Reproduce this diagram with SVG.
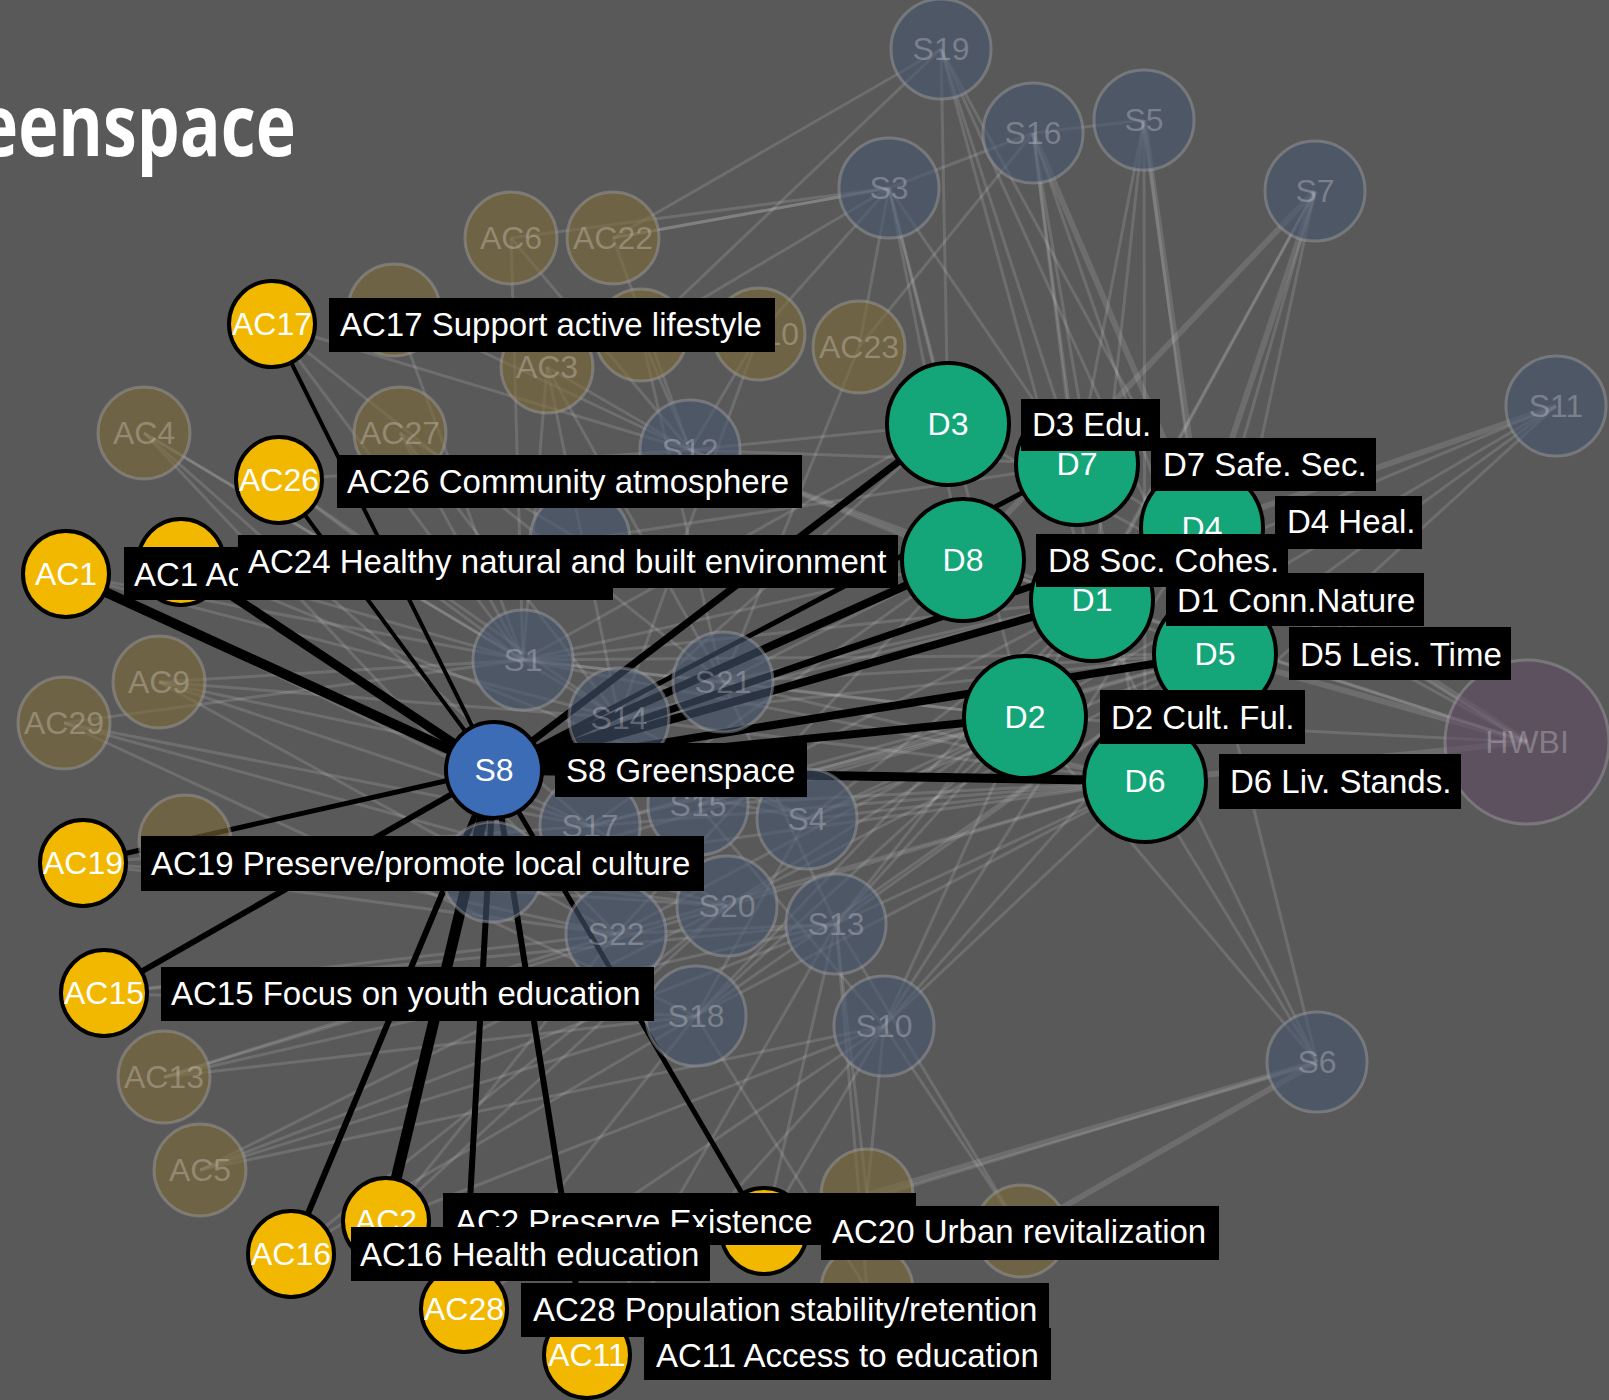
<svg xmlns="http://www.w3.org/2000/svg" width="1609" height="1400" viewBox="0 0 1609 1400">
<style>
.fe{stroke:#fff;stroke-opacity:.13;stroke-width:3}
.fw{stroke:#fff;stroke-opacity:.12;stroke-width:6}
.he{stroke:#000;stroke-linecap:round}
.fac{fill:#7e6b39;fill-opacity:.6;stroke:#a0a0a0;stroke-opacity:.45;stroke-width:3}
.fs{fill:#47566f;fill-opacity:.6;stroke:#a0a0a0;stroke-opacity:.45;stroke-width:3}
.fh{fill:#604d65;fill-opacity:.6;stroke:#a0a0a0;stroke-opacity:.45;stroke-width:3}
.ft{font-family:"Liberation Sans",Arial,sans-serif;font-size:32px;fill:#fff;fill-opacity:.25;text-anchor:middle}
.hac{fill:#f2b800;stroke:#000;stroke-width:4}
.hd{fill:#14a679;stroke:#000;stroke-width:4}
.hs{fill:#3b6cb5;stroke:#000;stroke-width:4}
.nt{font-family:"Liberation Sans",Arial,sans-serif;font-size:32px;fill:#fff;text-anchor:middle}
.lb{fill:#000}
.lt{font-family:"Liberation Sans",Arial,sans-serif;font-size:33px;fill:#fff}
</style>
<rect width="1609" height="1400" fill="#595959"/>
<text x="-22" y="156" font-family="'Open Sans','DejaVu Sans',sans-serif" font-weight="700" font-size="86" fill="#fff" textLength="318" lengthAdjust="spacingAndGlyphs">eenspace</text>
<g id="connectors">
<g id="faded-edges">
<line class="fe" x1="941" y1="49" x2="948" y2="424"/><line class="fe" x1="941" y1="49" x2="1077" y2="464"/><line class="fe" x1="941" y1="49" x2="1202" y2="528"/><line class="fe" x1="941" y1="49" x2="1092" y2="600"/><line class="fe" x1="941" y1="49" x2="1215" y2="654"/><line class="fe" x1="941" y1="49" x2="641" y2="335"/>
<line class="fe" x1="1033" y1="133" x2="1077" y2="464"/><line class="fw" x1="1033" y1="133" x2="1202" y2="528"/><line class="fe" x1="1033" y1="133" x2="1215" y2="654"/><line class="fe" x1="1033" y1="133" x2="1092" y2="600"/><line class="fe" x1="1033" y1="133" x2="1145" y2="781"/><line class="fe" x1="1033" y1="133" x2="889" y2="188"/>
<line class="fe" x1="1144" y1="120" x2="1077" y2="464"/><line class="fw" x1="1144" y1="120" x2="1202" y2="528"/><line class="fe" x1="1144" y1="120" x2="1092" y2="600"/><line class="fe" x1="1144" y1="120" x2="1215" y2="654"/><line class="fe" x1="1144" y1="120" x2="1145" y2="781"/><line class="fe" x1="1144" y1="120" x2="1033" y2="133"/>
<line class="fe" x1="889" y1="188" x2="948" y2="424"/><line class="fe" x1="889" y1="188" x2="963" y2="560"/><line class="fe" x1="889" y1="188" x2="1025" y2="717"/><line class="fe" x1="889" y1="188" x2="1077" y2="464"/><line class="fe" x1="889" y1="188" x2="613" y2="238"/><line class="fe" x1="889" y1="188" x2="641" y2="335"/>
<line class="fw" x1="1315" y1="191" x2="1202" y2="528"/><line class="fe" x1="1315" y1="191" x2="1215" y2="654"/><line class="fe" x1="1315" y1="191" x2="1025" y2="717"/><line class="fe" x1="1315" y1="191" x2="1145" y2="781"/><line class="fw" x1="1315" y1="191" x2="963" y2="560"/><line class="fe" x1="1315" y1="191" x2="1092" y2="600"/>
<line class="fe" x1="1556" y1="406" x2="1215" y2="654"/><line class="fe" x1="1556" y1="406" x2="1145" y2="781"/><line class="fe" x1="1556" y1="406" x2="1092" y2="600"/><line class="fw" x1="1556" y1="406" x2="1202" y2="528"/><line class="fe" x1="1556" y1="406" x2="1025" y2="717"/>
<line class="fe" x1="1317" y1="1062" x2="1145" y2="781"/><line class="fe" x1="1317" y1="1062" x2="1215" y2="654"/><line class="fe" x1="1317" y1="1062" x2="1025" y2="717"/><line class="fe" x1="1317" y1="1062" x2="1092" y2="600"/><line class="fw" x1="1317" y1="1062" x2="1021" y2="1231"/><line class="fw" x1="1317" y1="1062" x2="867" y2="1195"/>
<line class="fe" x1="1527" y1="742" x2="948" y2="424"/><line class="fe" x1="1527" y1="742" x2="1077" y2="464"/><line class="fw" x1="1527" y1="742" x2="1202" y2="528"/><line class="fe" x1="1527" y1="742" x2="963" y2="560"/><line class="fe" x1="1527" y1="742" x2="1092" y2="600"/><line class="fw" x1="1527" y1="742" x2="1215" y2="654"/><line class="fe" x1="1527" y1="742" x2="1025" y2="717"/><line class="fw" x1="1527" y1="742" x2="1145" y2="781"/>
<line class="fe" x1="690" y1="450" x2="948" y2="424"/><line class="fe" x1="690" y1="450" x2="963" y2="560"/><line class="fe" x1="690" y1="450" x2="1092" y2="600"/><line class="fe" x1="690" y1="450" x2="1077" y2="464"/><line class="fe" x1="690" y1="450" x2="1215" y2="654"/>
<line class="fe" x1="523" y1="660" x2="963" y2="560"/><line class="fe" x1="523" y1="660" x2="1025" y2="717"/><line class="fe" x1="523" y1="660" x2="1092" y2="600"/><line class="fe" x1="523" y1="660" x2="1215" y2="654"/><line class="fe" x1="523" y1="660" x2="948" y2="424"/><line class="fe" x1="523" y1="660" x2="1145" y2="781"/>
<line class="fe" x1="723" y1="682" x2="1215" y2="654"/><line class="fe" x1="723" y1="682" x2="1025" y2="717"/><line class="fe" x1="723" y1="682" x2="1145" y2="781"/><line class="fe" x1="723" y1="682" x2="963" y2="560"/><line class="fe" x1="723" y1="682" x2="1092" y2="600"/>
<line class="fe" x1="619" y1="718" x2="948" y2="424"/><line class="fe" x1="619" y1="718" x2="1092" y2="600"/><line class="fe" x1="619" y1="718" x2="1215" y2="654"/><line class="fe" x1="619" y1="718" x2="1145" y2="781"/>
<line class="fe" x1="698" y1="805" x2="1025" y2="717"/><line class="fe" x1="698" y1="805" x2="1145" y2="781"/><line class="fe" x1="698" y1="805" x2="1215" y2="654"/><line class="fe" x1="698" y1="805" x2="1092" y2="600"/>
<line class="fe" x1="590" y1="826" x2="963" y2="560"/><line class="fe" x1="590" y1="826" x2="1145" y2="781"/><line class="fe" x1="590" y1="826" x2="1025" y2="717"/><line class="fe" x1="590" y1="826" x2="1215" y2="654"/>
<line class="fe" x1="807" y1="819" x2="1145" y2="781"/><line class="fe" x1="807" y1="819" x2="1215" y2="654"/><line class="fe" x1="807" y1="819" x2="1092" y2="600"/><line class="fe" x1="807" y1="819" x2="1025" y2="717"/>
<line class="fe" x1="727" y1="906" x2="1025" y2="717"/><line class="fe" x1="727" y1="906" x2="1145" y2="781"/><line class="fe" x1="727" y1="906" x2="1215" y2="654"/>
<line class="fe" x1="616" y1="934" x2="963" y2="560"/><line class="fe" x1="616" y1="934" x2="1145" y2="781"/><line class="fe" x1="616" y1="934" x2="1025" y2="717"/>
<line class="fe" x1="836" y1="924" x2="1215" y2="654"/><line class="fe" x1="836" y1="924" x2="1145" y2="781"/><line class="fe" x1="836" y1="924" x2="1092" y2="600"/><line class="fe" x1="836" y1="924" x2="1025" y2="717"/>
<line class="fe" x1="696" y1="1016" x2="1025" y2="717"/><line class="fe" x1="696" y1="1016" x2="1215" y2="654"/><line class="fe" x1="696" y1="1016" x2="1145" y2="781"/><line class="fe" x1="696" y1="1016" x2="1092" y2="600"/>
<line class="fe" x1="884" y1="1026" x2="1145" y2="781"/><line class="fe" x1="884" y1="1026" x2="1215" y2="654"/><line class="fe" x1="884" y1="1026" x2="1202" y2="528"/><line class="fe" x1="884" y1="1026" x2="1025" y2="717"/>
<line class="fe" x1="580" y1="540" x2="963" y2="560"/><line class="fe" x1="580" y1="540" x2="1077" y2="464"/>
<line class="fe" x1="492" y1="872" x2="1025" y2="717"/><line class="fe" x1="492" y1="872" x2="1145" y2="781"/>
<line class="fe" x1="523" y1="660" x2="723" y2="682"/><line class="fe" x1="619" y1="718" x2="807" y2="819"/><line class="fe" x1="590" y1="826" x2="727" y2="906"/><line class="fe" x1="723" y1="682" x2="836" y2="924"/><line class="fe" x1="698" y1="805" x2="884" y2="1026"/><line class="fe" x1="616" y1="934" x2="836" y2="924"/><line class="fe" x1="696" y1="1016" x2="807" y2="819"/>
<line class="fe" x1="511" y1="238" x2="690" y2="450"/><line class="fe" x1="511" y1="238" x2="889" y2="188"/><line class="fe" x1="511" y1="238" x2="523" y2="660"/>
<line class="fe" x1="613" y1="238" x2="889" y2="188"/><line class="fe" x1="613" y1="238" x2="941" y2="49"/><line class="fe" x1="613" y1="238" x2="690" y2="450"/>
<line class="fe" x1="394" y1="310" x2="523" y2="660"/><line class="fe" x1="394" y1="310" x2="690" y2="450"/>
<line class="fe" x1="641" y1="335" x2="690" y2="450"/><line class="fe" x1="641" y1="335" x2="723" y2="682"/>
<line class="fe" x1="759" y1="334" x2="690" y2="450"/><line class="fe" x1="759" y1="334" x2="619" y2="718"/><line class="fe" x1="759" y1="334" x2="889" y2="188"/>
<line class="fe" x1="859" y1="347" x2="889" y2="188"/><line class="fe" x1="859" y1="347" x2="1033" y2="133"/><line class="fe" x1="859" y1="347" x2="723" y2="682"/>
<line class="fe" x1="547" y1="367" x2="523" y2="660"/><line class="fe" x1="547" y1="367" x2="690" y2="450"/><line class="fe" x1="547" y1="367" x2="619" y2="718"/><line class="fe" x1="547" y1="367" x2="723" y2="682"/>
<line class="fe" x1="144" y1="433" x2="523" y2="660"/><line class="fe" x1="144" y1="433" x2="590" y2="826"/><line class="fe" x1="144" y1="433" x2="616" y2="934"/><line class="fe" x1="144" y1="433" x2="619" y2="718"/>
<line class="fe" x1="400" y1="433" x2="523" y2="660"/><line class="fe" x1="400" y1="433" x2="619" y2="718"/><line class="fe" x1="400" y1="433" x2="580" y2="540"/>
<line class="fe" x1="159" y1="682" x2="523" y2="660"/><line class="fe" x1="159" y1="682" x2="590" y2="826"/><line class="fe" x1="159" y1="682" x2="807" y2="819"/><line class="fe" x1="159" y1="682" x2="616" y2="934"/><line class="fe" x1="159" y1="682" x2="619" y2="718"/>
<line class="fe" x1="64" y1="723" x2="523" y2="660"/><line class="fe" x1="64" y1="723" x2="727" y2="906"/><line class="fe" x1="64" y1="723" x2="696" y2="1016"/><line class="fe" x1="64" y1="723" x2="590" y2="826"/>
<line class="fe" x1="185" y1="841" x2="727" y2="906"/><line class="fe" x1="185" y1="841" x2="616" y2="934"/>
<line class="fe" x1="164" y1="1077" x2="616" y2="934"/><line class="fe" x1="164" y1="1077" x2="696" y2="1016"/><line class="fe" x1="164" y1="1077" x2="727" y2="906"/><line class="fe" x1="164" y1="1077" x2="836" y2="924"/>
<line class="fe" x1="200" y1="1170" x2="696" y2="1016"/><line class="fe" x1="200" y1="1170" x2="884" y2="1026"/><line class="fe" x1="200" y1="1170" x2="836" y2="924"/><line class="fe" x1="200" y1="1170" x2="727" y2="906"/>
<line class="fe" x1="867" y1="1195" x2="884" y2="1026"/><line class="fe" x1="867" y1="1195" x2="836" y2="924"/>
<line class="fe" x1="1021" y1="1231" x2="884" y2="1026"/><line class="fe" x1="1021" y1="1231" x2="836" y2="924"/>
<line class="fe" x1="867" y1="1290" x2="836" y2="924"/><line class="fe" x1="867" y1="1290" x2="696" y2="1016"/>
<line class="fe" x1="272" y1="324" x2="523" y2="660"/><line class="fe" x1="272" y1="324" x2="690" y2="450"/><line class="fe" x1="272" y1="324" x2="723" y2="682"/>
<line class="fe" x1="279" y1="480" x2="690" y2="450"/><line class="fe" x1="279" y1="480" x2="619" y2="718"/><line class="fe" x1="279" y1="480" x2="523" y2="660"/>
<line class="fe" x1="66" y1="574" x2="523" y2="660"/><line class="fe" x1="66" y1="574" x2="619" y2="718"/><line class="fe" x1="66" y1="574" x2="590" y2="826"/>
<line class="fe" x1="181" y1="562" x2="523" y2="660"/><line class="fe" x1="181" y1="562" x2="807" y2="819"/>
<line class="fe" x1="83" y1="863" x2="590" y2="826"/><line class="fe" x1="83" y1="863" x2="616" y2="934"/><line class="fe" x1="83" y1="863" x2="727" y2="906"/>
<line class="fe" x1="104" y1="993" x2="616" y2="934"/><line class="fe" x1="104" y1="993" x2="696" y2="1016"/><line class="fe" x1="104" y1="993" x2="836" y2="924"/>
<line class="fe" x1="291" y1="1254" x2="696" y2="1016"/><line class="fe" x1="291" y1="1254" x2="727" y2="906"/>
<line class="fe" x1="386" y1="1221" x2="727" y2="906"/><line class="fe" x1="386" y1="1221" x2="616" y2="934"/><line class="fe" x1="386" y1="1221" x2="884" y2="1026"/>
<line class="fe" x1="464" y1="1309" x2="696" y2="1016"/><line class="fe" x1="464" y1="1309" x2="884" y2="1026"/>
<line class="fe" x1="587" y1="1355" x2="884" y2="1026"/><line class="fe" x1="587" y1="1355" x2="836" y2="924"/>
<line class="fe" x1="764" y1="1231" x2="1317" y2="1062"/><line class="fe" x1="764" y1="1231" x2="884" y2="1026"/><line class="fe" x1="764" y1="1231" x2="836" y2="924"/>
</g>
<g id="highlighted-edges">
<line class="he" stroke-width="4" x1="494" y1="770" x2="272" y2="324"/>
<line class="he" stroke-width="4" x1="494" y1="770" x2="279" y2="480"/>
<line class="he" stroke-width="10" x1="494" y1="770" x2="66" y2="574"/>
<line class="he" stroke-width="9" x1="494" y1="770" x2="181" y2="562"/>
<line class="he" stroke-width="5" x1="494" y1="770" x2="83" y2="863"/>
<line class="he" stroke-width="6" x1="494" y1="770" x2="104" y2="993"/>
<line class="he" stroke-width="6" x1="494" y1="770" x2="291" y2="1254"/>
<line class="he" stroke-width="11" x1="494" y1="770" x2="386" y2="1221"/>
<line class="he" stroke-width="6" x1="494" y1="770" x2="464" y2="1309"/>
<line class="he" stroke-width="6" x1="494" y1="770" x2="587" y2="1355"/>
<line class="he" stroke-width="5" x1="494" y1="770" x2="764" y2="1231"/>
<line class="he" stroke-width="7" x1="494" y1="770" x2="948" y2="424"/>
<line class="he" stroke-width="5" x1="494" y1="770" x2="1077" y2="464"/>
<line class="he" stroke-width="7" x1="494" y1="770" x2="1202" y2="528"/>
<line class="he" stroke-width="8" x1="494" y1="770" x2="963" y2="560"/>
<line class="he" stroke-width="8" x1="494" y1="770" x2="1092" y2="600"/>
<line class="he" stroke-width="8" x1="494" y1="770" x2="1215" y2="654"/>
<line class="he" stroke-width="8" x1="494" y1="770" x2="1025" y2="717"/>
<line class="he" stroke-width="9" x1="494" y1="770" x2="1145" y2="781"/>
</g>
</g>
<g id="faded-nodes">
<g id="S19"><circle class="fs" cx="941" cy="49" r="50"/><text class="ft" x="941" y="60">S19</text></g>
<g id="S16"><circle class="fs" cx="1033" cy="133" r="50"/><text class="ft" x="1033" y="144">S16</text></g>
<g id="S5"><circle class="fs" cx="1144" cy="120" r="50"/><text class="ft" x="1144" y="131">S5</text></g>
<g id="S3"><circle class="fs" cx="889" cy="188" r="50"/><text class="ft" x="889" y="199">S3</text></g>
<g id="S7"><circle class="fs" cx="1315" cy="191" r="50"/><text class="ft" x="1315" y="202">S7</text></g>
<g id="S11"><circle class="fs" cx="1556" cy="406" r="50"/><text class="ft" x="1556" y="417">S11</text></g>
<g id="S12"><circle class="fs" cx="690" cy="450" r="50"/><text class="ft" x="690" y="461">S12</text></g>
<g id="S2"><circle class="fs" cx="580" cy="540" r="50"/></g>
<g id="S1"><circle class="fs" cx="523" cy="660" r="50"/><text class="ft" x="523" y="671">S1</text></g>
<g id="S21"><circle class="fs" cx="723" cy="682" r="50"/><text class="ft" x="723" y="693">S21</text></g>
<g id="S14"><circle class="fs" cx="619" cy="718" r="50"/><text class="ft" x="619" y="729">S14</text></g>
<g id="S15"><circle class="fs" cx="698" cy="805" r="50"/><text class="ft" x="698" y="816">S15</text></g>
<g id="S17"><circle class="fs" cx="590" cy="826" r="50"/><text class="ft" x="590" y="837">S17</text></g>
<g id="S4"><circle class="fs" cx="807" cy="819" r="50"/><text class="ft" x="807" y="830">S4</text></g>
<g id="S9"><circle class="fs" cx="492" cy="872" r="50"/></g>
<g id="S20"><circle class="fs" cx="727" cy="906" r="50"/><text class="ft" x="727" y="917">S20</text></g>
<g id="S22"><circle class="fs" cx="616" cy="934" r="50"/><text class="ft" x="616" y="945">S22</text></g>
<g id="S13"><circle class="fs" cx="836" cy="924" r="50"/><text class="ft" x="836" y="935">S13</text></g>
<g id="S18"><circle class="fs" cx="696" cy="1016" r="50"/><text class="ft" x="696" y="1027">S18</text></g>
<g id="S10"><circle class="fs" cx="884" cy="1026" r="50"/><text class="ft" x="884" y="1037">S10</text></g>
<g id="S6"><circle class="fs" cx="1317" cy="1062" r="50"/><text class="ft" x="1317" y="1073">S6</text></g>
<g id="HWBI"><circle class="fh" cx="1527" cy="742" r="82"/><text class="ft" x="1527" y="753">HWBI</text></g>
<g id="AC6"><circle class="fac" cx="511" cy="238" r="46"/><text class="ft" x="511" y="249">AC6</text></g>
<g id="AC22"><circle class="fac" cx="613" cy="238" r="46"/><text class="ft" x="613" y="249">AC22</text></g>
<g id="AC-a"><circle class="fac" cx="394" cy="310" r="46"/></g>
<g id="AC-b"><circle class="fac" cx="641" cy="335" r="46"/></g>
<g id="AC10"><circle class="fac" cx="759" cy="334" r="46"/><text class="ft" x="759" y="345">AC10</text></g>
<g id="AC23"><circle class="fac" cx="859" cy="347" r="46"/><text class="ft" x="859" y="358">AC23</text></g>
<g id="AC3"><circle class="fac" cx="547" cy="367" r="46"/><text class="ft" x="547" y="378">AC3</text></g>
<g id="AC4"><circle class="fac" cx="144" cy="433" r="46"/><text class="ft" x="144" y="444">AC4</text></g>
<g id="AC27"><circle class="fac" cx="400" cy="433" r="46"/><text class="ft" x="400" y="444">AC27</text></g>
<g id="AC9"><circle class="fac" cx="159" cy="682" r="46"/><text class="ft" x="159" y="693">AC9</text></g>
<g id="AC29"><circle class="fac" cx="64" cy="723" r="46"/><text class="ft" x="64" y="734">AC29</text></g>
<g id="AC-c"><circle class="fac" cx="185" cy="841" r="46"/></g>
<g id="AC13"><circle class="fac" cx="164" cy="1077" r="46"/><text class="ft" x="164" y="1088">AC13</text></g>
<g id="AC5"><circle class="fac" cx="200" cy="1170" r="46"/><text class="ft" x="200" y="1181">AC5</text></g>
<g id="AC-d"><circle class="fac" cx="867" cy="1195" r="46"/></g>
<g id="AC-e"><circle class="fac" cx="1021" cy="1231" r="46"/></g>
<g id="AC-f"><circle class="fac" cx="867" cy="1290" r="46"/></g>
</g>
<g id="highlighted-nodes">
<g id="AC17"><circle class="hac" cx="272" cy="324" r="43"/><text class="nt" x="272" y="335">AC17</text></g>
<g id="AC26"><circle class="hac" cx="279" cy="480" r="43"/><text class="nt" x="279" y="491">AC26</text></g>
<g id="AC24"><circle class="hac" cx="181" cy="562" r="43"/><text class="nt" x="181" y="573">AC24</text></g>
<g id="AC1"><circle class="hac" cx="66" cy="574" r="43"/><text class="nt" x="66" y="585">AC1</text></g>
<g id="AC19"><circle class="hac" cx="83" cy="863" r="43"/><text class="nt" x="83" y="874">AC19</text></g>
<g id="AC15"><circle class="hac" cx="104" cy="993" r="43"/><text class="nt" x="104" y="1004">AC15</text></g>
<g id="AC2"><circle class="hac" cx="386" cy="1221" r="43"/><text class="nt" x="386" y="1232">AC2</text></g>
<g id="AC16"><circle class="hac" cx="291" cy="1254" r="43"/><text class="nt" x="291" y="1265">AC16</text></g>
<g id="AC20"><circle class="hac" cx="764" cy="1231" r="43"/><text class="nt" x="764" y="1242">AC20</text></g>
<g id="AC28"><circle class="hac" cx="464" cy="1309" r="43"/><text class="nt" x="464" y="1320">AC28</text></g>
<g id="AC11"><circle class="hac" cx="587" cy="1355" r="43"/><text class="nt" x="587" y="1366">AC11</text></g>
<g id="S8"><circle class="hs" cx="494" cy="770" r="48"/><text class="nt" x="494" y="781">S8</text></g>
<g id="D3"><circle class="hd" cx="948" cy="424" r="61"/><text class="nt" x="948" y="435">D3</text></g>
<g id="D7"><circle class="hd" cx="1077" cy="464" r="61"/><text class="nt" x="1077" y="475">D7</text></g>
<g id="D4"><circle class="hd" cx="1202" cy="528" r="61"/><text class="nt" x="1202" y="539">D4</text></g>
<g id="D8"><circle class="hd" cx="963" cy="560" r="61"/><text class="nt" x="963" y="571">D8</text></g>
<g id="D1"><circle class="hd" cx="1092" cy="600" r="61"/><text class="nt" x="1092" y="611">D1</text></g>
<g id="D5"><circle class="hd" cx="1215" cy="654" r="61"/><text class="nt" x="1215" y="665">D5</text></g>
<g id="D2"><circle class="hd" cx="1025" cy="717" r="61"/><text class="nt" x="1025" y="728">D2</text></g>
<g id="D6"><circle class="hd" cx="1145" cy="781" r="61"/><text class="nt" x="1145" y="792">D6</text></g>
</g>
<g id="labels">
<g id="lab-AC17"><rect class="lb" x="329" y="298" width="446" height="54"/><text class="lt" x="340" y="336">AC17 Support active lifestyle</text></g>
<g id="lab-AC26"><rect class="lb" x="337" y="455" width="465" height="53"/><text class="lt" x="347" y="493">AC26 Community atmosphere</text></g>
<g id="lab-AC1"><rect class="lb" x="124" y="547" width="489" height="53"/><text class="lt" x="134" y="586">AC1 Ac</text></g>
<g id="lab-AC24"><rect class="lb" x="238" y="535" width="660" height="53"/><text class="lt" x="248" y="573">AC24 Healthy natural and built environment</text></g>
<g id="lab-D3"><rect class="lb" x="1021" y="399" width="139" height="52"/><text class="lt" x="1032" y="436">D3 Edu.</text></g>
<g id="lab-D7"><rect class="lb" x="1151" y="438" width="225" height="53"/><text class="lt" x="1163" y="476">D7 Safe. Sec.</text></g>
<g id="lab-D4"><rect class="lb" x="1275" y="496" width="147" height="53"/><text class="lt" x="1287" y="533">D4 Heal.</text></g>
<g id="lab-D8"><rect class="lb" x="1036" y="534" width="252" height="53"/><text class="lt" x="1048" y="572">D8 Soc. Cohes.</text></g>
<g id="lab-D1"><rect class="lb" x="1166" y="573" width="258" height="53"/><text class="lt" x="1177" y="612">D1 Conn.Nature</text></g>
<g id="lab-D5"><rect class="lb" x="1289" y="627" width="222" height="53"/><text class="lt" x="1300" y="666">D5 Leis. Time</text></g>
<g id="lab-D2"><rect class="lb" x="1100" y="690" width="205" height="54"/><text class="lt" x="1111" y="729">D2 Cult. Ful.</text></g>
<g id="lab-D6"><rect class="lb" x="1219" y="754" width="242" height="55"/><text class="lt" x="1230" y="793">D6 Liv. Stands.</text></g>
<g id="lab-S8"><rect class="lb" x="555" y="743" width="252" height="54"/><text class="lt" x="566" y="782">S8 Greenspace</text></g>
<g id="lab-AC19"><rect class="lb" x="141" y="836" width="563" height="55"/><text class="lt" x="151" y="875">AC19 Preserve/promote local culture</text></g>
<g id="lab-AC15"><rect class="lb" x="161" y="967" width="493" height="54"/><text class="lt" x="171" y="1005">AC15 Focus on youth education</text></g>
<g id="lab-AC2"><rect class="lb" x="443" y="1193" width="473" height="52"/><text class="lt" x="455" y="1233">AC2 Preserve Existence</text></g>
<g id="lab-AC20"><rect class="lb" x="821" y="1206" width="398" height="54"/><text class="lt" x="832" y="1243">AC20 Urban revitalization</text></g>
<g id="lab-AC16"><rect class="lb" x="351" y="1227" width="359" height="54"/><text class="lt" x="360" y="1266">AC16 Health education</text></g>
<g id="lab-AC28"><rect class="lb" x="521" y="1283" width="528" height="54"/><text class="lt" x="533" y="1321">AC28 Population stability/retention</text></g>
<g id="lab-AC11"><rect class="lb" x="644" y="1328" width="407" height="52"/><text class="lt" x="656" y="1367">AC11 Access to education</text></g>
</g>
</svg>
